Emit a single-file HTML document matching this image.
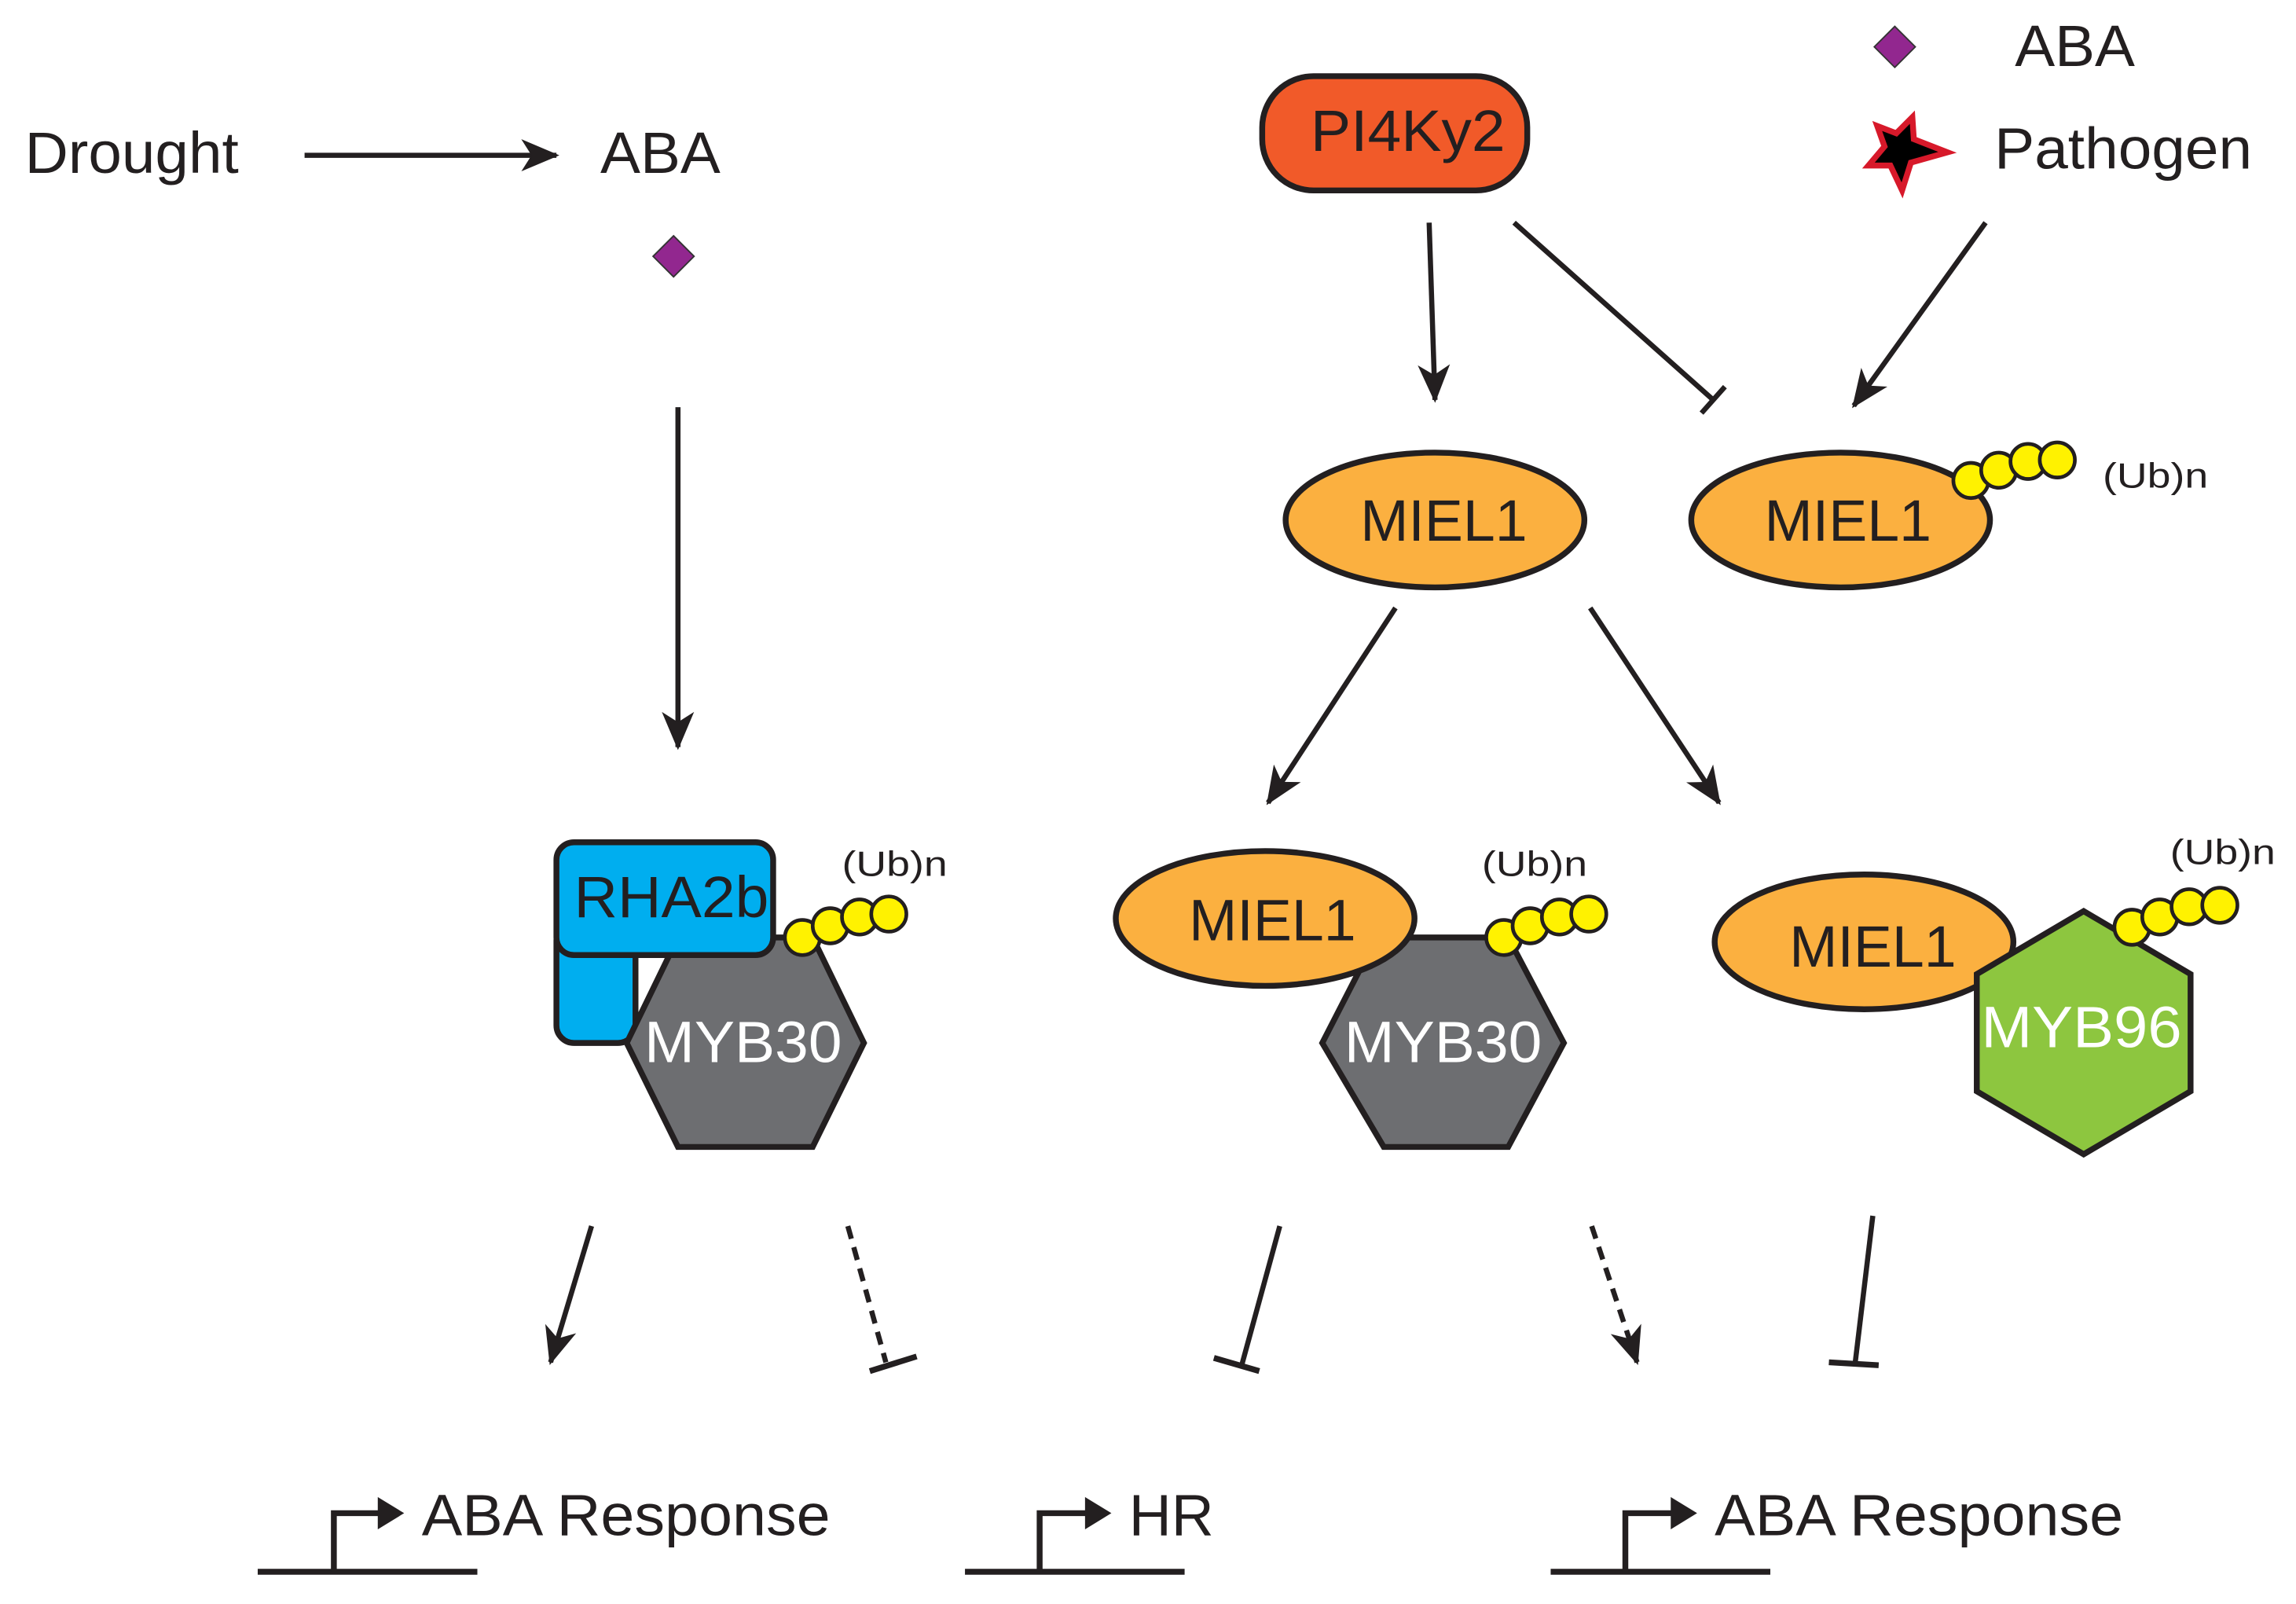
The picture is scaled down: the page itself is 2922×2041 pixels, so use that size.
<!DOCTYPE html>
<html><head><meta charset="utf-8"><style>html,body{margin:0;padding:0;background:#fff}svg{display:block}</style></head>
<body>
<svg width="2922" height="2041" viewBox="0 0 1568 1095" preserveAspectRatio="none" xmlns="http://www.w3.org/2000/svg" font-family="Liberation Sans, sans-serif">
<defs><marker id="a2" markerWidth="26" markerHeight="26" refX="24" refY="13" orient="auto" markerUnits="userSpaceOnUse"><path d="M0,2 L26,13 L0,24 L7,13 Z" fill="#231f20"/></marker></defs>
<g stroke="#231f20" stroke-width="3.5" fill="none">
<line x1="208" y1="106" x2="380" y2="106" marker-end="url(#a2)"/>
<line x1="463" y1="278" x2="463" y2="510" marker-end="url(#a2)"/>
<line x1="976" y1="152" x2="980" y2="273" marker-end="url(#a2)"/>
<line x1="1034" y1="152" x2="1170" y2="273"/>
<line x1="1162" y1="282" x2="1178" y2="264"/>
<line x1="1356" y1="152" x2="1266" y2="277" marker-end="url(#a2)"/>
<line x1="953" y1="415" x2="866" y2="548" marker-end="url(#a2)"/>
<line x1="1086" y1="415" x2="1174" y2="548" marker-end="url(#a2)"/>
<line x1="404" y1="837" x2="376" y2="930" marker-end="url(#a2)"/>
<line x1="579" y1="837" x2="605" y2="930" stroke-dasharray="9,6"/>
<line x1="594" y1="936" x2="626" y2="926" stroke-width="4"/>
<line x1="874" y1="837" x2="848" y2="932"/>
<line x1="829" y1="927" x2="860" y2="936" stroke-width="4"/>
<line x1="1087" y1="837" x2="1118" y2="930" stroke-dasharray="9,6" marker-end="url(#a2)"/>
<line x1="1279" y1="830" x2="1267" y2="930"/>
<line x1="1249" y1="930" x2="1283" y2="932" stroke-width="4"/>
</g>
<g stroke="#231f20" stroke-width="4" fill="none">
<line x1="176" y1="1073" x2="326" y2="1073"/><polyline points="228,1073 228,1033 262,1033"/>
<line x1="659" y1="1073" x2="809" y2="1073"/><polyline points="710,1073 710,1033 745,1033"/>
<line x1="1059" y1="1073" x2="1209" y2="1073"/><polyline points="1110,1073 1110,1033 1145,1033"/>
</g>
<g fill="#231f20">
<path d="M258,1022 L276,1033 L258,1044 Z"/><path d="M741,1022 L759,1033 L741,1044 Z"/><path d="M1141,1022 L1159,1033 L1141,1044 Z"/>
</g>
<g font-size="40" fill="#231f20" lengthAdjust="spacingAndGlyphs">
<text x="17" y="118" textLength="146" lengthAdjust="spacingAndGlyphs">Drought</text>
<text x="410" y="118" textLength="82" lengthAdjust="spacingAndGlyphs">ABA</text>
<text x="1376" y="45" textLength="82" lengthAdjust="spacingAndGlyphs">ABA</text>
<text x="1362" y="115" textLength="176" lengthAdjust="spacingAndGlyphs">Pathogen</text>
<text x="288" y="1048" textLength="279" lengthAdjust="spacingAndGlyphs">ABA Response</text>
<text x="771" y="1048" textLength="58" lengthAdjust="spacingAndGlyphs">HR</text>
<text x="1171" y="1048" textLength="279" lengthAdjust="spacingAndGlyphs">ABA Response</text>
</g>
<path d="M460,161 L474,175 L460,189 L446,175 Z" fill="#92278f" stroke="#333" stroke-width="1"/>
<path d="M1294,18 L1308,32 L1294,46 L1280,32 Z" fill="#92278f" stroke="#333" stroke-width="1"/>
<path d="M1306,80 L1307,95 L1330,104 L1305,111 L1299,130 L1291,113 L1276,113 L1287,100 L1282,86 L1295,91 Z" fill="#000" stroke="#d7192a" stroke-width="4"/>
<rect x="862" y="52" width="181" height="78" rx="35" fill="#f15a29" stroke="#231f20" stroke-width="4"/>
<text x="895" y="103" font-size="40" textLength="133" lengthAdjust="spacingAndGlyphs" fill="#231f20">PI4Ky2</text>
<g stroke="#231f20" stroke-width="4">
<ellipse cx="980" cy="355" rx="102" ry="46" fill="#fbb040"/>
<ellipse cx="1257" cy="355" rx="102" ry="46" fill="#fbb040"/>
</g>
<g fill="#fff200" stroke="#231f20" stroke-width="2.5">
<circle cx="1346" cy="328" r="12"/><circle cx="1365" cy="321" r="12"/><circle cx="1385" cy="315" r="12"/><circle cx="1405" cy="314" r="12"/>
</g>
<g font-size="40" fill="#231f20">
<text x="929" y="369" textLength="114" lengthAdjust="spacingAndGlyphs">MIEL1</text>
<text x="1205" y="369" textLength="114" lengthAdjust="spacingAndGlyphs">MIEL1</text>
</g>
<text x="1436" y="333" font-size="24" fill="#231f20" textLength="72" lengthAdjust="spacingAndGlyphs">(Ub)n</text>
<g stroke="#231f20" stroke-width="4">
<rect x="380" y="630" width="54" height="82" rx="12" fill="#00aeef"/>
<polygon points="463,640 555,640 590,712 555,783 463,783 428,712" fill="#6d6e71"/>
<rect x="380" y="575" width="148" height="77" rx="12" fill="#00aeef"/>
</g>
<g fill="#fff200" stroke="#231f20" stroke-width="2.5">
<circle cx="548" cy="640" r="12"/><circle cx="567" cy="632" r="12"/><circle cx="587" cy="626" r="12"/><circle cx="607" cy="624" r="12"/>
</g>
<text x="392" y="626" font-size="40" textLength="133" lengthAdjust="spacingAndGlyphs" fill="#231f20">RHA2b</text>
<text x="440" y="725" font-size="40" textLength="135" lengthAdjust="spacingAndGlyphs" fill="#fff">MYB30</text>
<text x="575" y="598" font-size="24" fill="#231f20" textLength="72" lengthAdjust="spacingAndGlyphs">(Ub)n</text>
<g stroke="#231f20" stroke-width="4">
<polygon points="940,640 1030,640 1068,712 1030,783 945,783 903,712" fill="#6d6e71"/>
<ellipse cx="864" cy="627" rx="102" ry="46" fill="#fbb040"/>
</g>
<g fill="#fff200" stroke="#231f20" stroke-width="2.5">
<circle cx="1027" cy="640" r="12"/><circle cx="1045" cy="632" r="12"/><circle cx="1065" cy="626" r="12"/><circle cx="1085" cy="624" r="12"/>
</g>
<text x="812" y="642" font-size="40" textLength="114" lengthAdjust="spacingAndGlyphs" fill="#231f20">MIEL1</text>
<text x="918" y="725" font-size="40" textLength="135" lengthAdjust="spacingAndGlyphs" fill="#fff">MYB30</text>
<text x="1012" y="598" font-size="24" fill="#231f20" textLength="72" lengthAdjust="spacingAndGlyphs">(Ub)n</text>
<g stroke="#231f20" stroke-width="4">
<ellipse cx="1273" cy="643" rx="102" ry="46" fill="#fbb040"/>
<polygon points="1423,622 1496,665 1496,745 1423,788 1350,745 1350,665" fill="#8dc63f"/>
</g>
<g fill="#fff200" stroke="#231f20" stroke-width="2.5">
<circle cx="1456" cy="633" r="12"/><circle cx="1475" cy="626" r="12"/><circle cx="1495" cy="619" r="12"/><circle cx="1516" cy="618" r="12"/>
</g>
<text x="1222" y="660" font-size="40" textLength="114" lengthAdjust="spacingAndGlyphs" fill="#231f20">MIEL1</text>
<text x="1353" y="715" font-size="40" textLength="137" lengthAdjust="spacingAndGlyphs" fill="#fff">MYB96</text>
<text x="1482" y="590" font-size="24" fill="#231f20" textLength="72" lengthAdjust="spacingAndGlyphs">(Ub)n</text>
</svg>
</body></html>
